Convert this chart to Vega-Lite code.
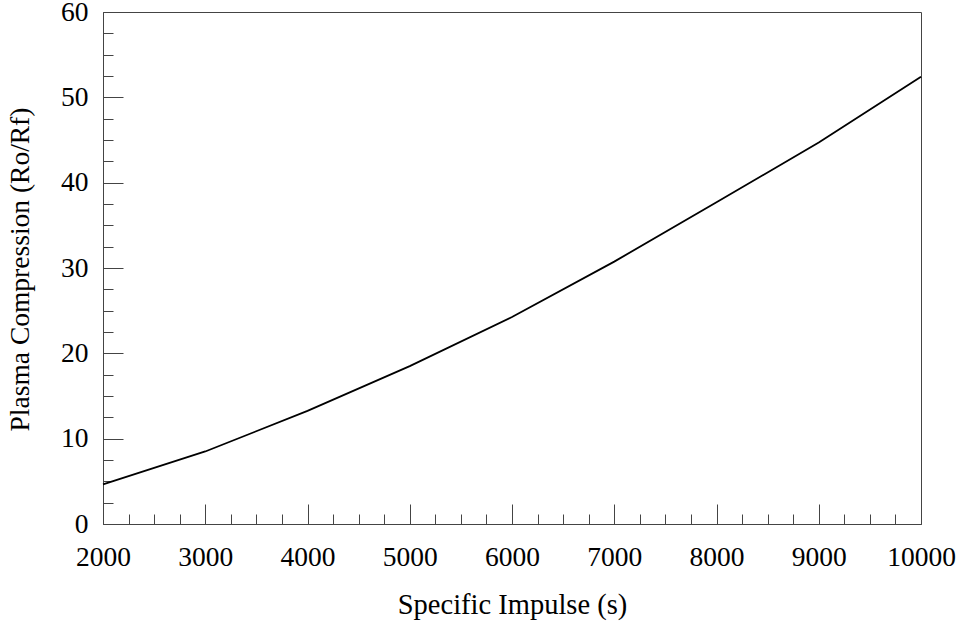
{
  "$schema": "https://vega.github.io/schema/vega-lite/v6.json",
  "width": 818,
  "height": 512,
  "autosize": "none",
  "padding": {"left": 103, "top": 12, "right": 38, "bottom": 110},
  "background": "white",
  "config": {
    "view": {"stroke": "#444444", "strokeWidth": 1},
    "font": "Liberation Serif"
  },
  "data": {
    "values": [
      {"isp": 2000, "comp": 4.65},
      {"isp": 3000, "comp": 8.5},
      {"isp": 4000, "comp": 13.25},
      {"isp": 5000, "comp": 18.5},
      {"isp": 6000, "comp": 24.25},
      {"isp": 7000, "comp": 30.75},
      {"isp": 8000, "comp": 37.7},
      {"isp": 9000, "comp": 44.7},
      {"isp": 10000, "comp": 52.4}
    ]
  },
  "mark": {"type": "line", "color": "black", "strokeWidth": 1.8},
  "encoding": {
    "x": {
      "field": "isp",
      "type": "quantitative",
      "scale": {"domain": [2000, 10000], "nice": false, "zero": false},
      "axis": {
        "title": "Specific Impulse (s)",
        "values": [2000,2250,2500,2750,3000,3250,3500,3750,4000,4250,4500,4750,5000,5250,5500,5750,6000,6250,6500,6750,7000,7250,7500,7750,8000,8250,8500,8750,9000,9250,9500,9750,10000],
        "labelExpr": "datum.value % 1000 === 0 ? datum.value : ''",
        "labelOverlap": false,
        "labelFlush": false,
        "labelBound": false,
        "grid": false,
        "tickSize": {"condition": {"test": "datum.value % 1000 === 0", "value": -20}, "value": -10},
        "tickColor": "#444444",
        "domainColor": "#444444",
        "labelFont": "Liberation Serif",
        "labelFontSize": 27.5,
        "labelColor": "black",
        "labelPadding": 39,
        "titleFont": "Liberation Serif",
        "titleFontSize": 28.5,
        "titleFontWeight": "normal",
        "titleColor": "black",
        "titleBaseline": "alphabetic",
        "titleY": 89
      }
    },
    "y": {
      "field": "comp",
      "type": "quantitative",
      "scale": {"domain": [0, 60], "nice": false},
      "axis": {
        "title": "Plasma Compression (Ro/Rf)",
        "values": [0,2.5,5,7.5,10,12.5,15,17.5,20,22.5,25,27.5,30,32.5,35,37.5,40,42.5,45,47.5,50,52.5,55,57.5,60],
        "labelExpr": "datum.value % 10 === 0 ? datum.value : ''",
        "labelOverlap": false,
        "labelFlush": false,
        "labelBound": false,
        "grid": false,
        "tickSize": {"condition": {"test": "datum.value % 10 === 0", "value": -20}, "value": -10},
        "tickColor": "#444444",
        "domainColor": "#444444",
        "labelFont": "Liberation Serif",
        "labelFontSize": 27.5,
        "labelColor": "black",
        "labelPadding": 35,
        "titleFont": "Liberation Serif",
        "titleFontSize": 27.5,
        "titleFontWeight": "normal",
        "titleColor": "black",
        "titleAngle": -90,
        "titleBaseline": "alphabetic",
        "titleX": -75,
        "titleY": 257,
        "titleAlign": "center"
      }
    }
  }
}
